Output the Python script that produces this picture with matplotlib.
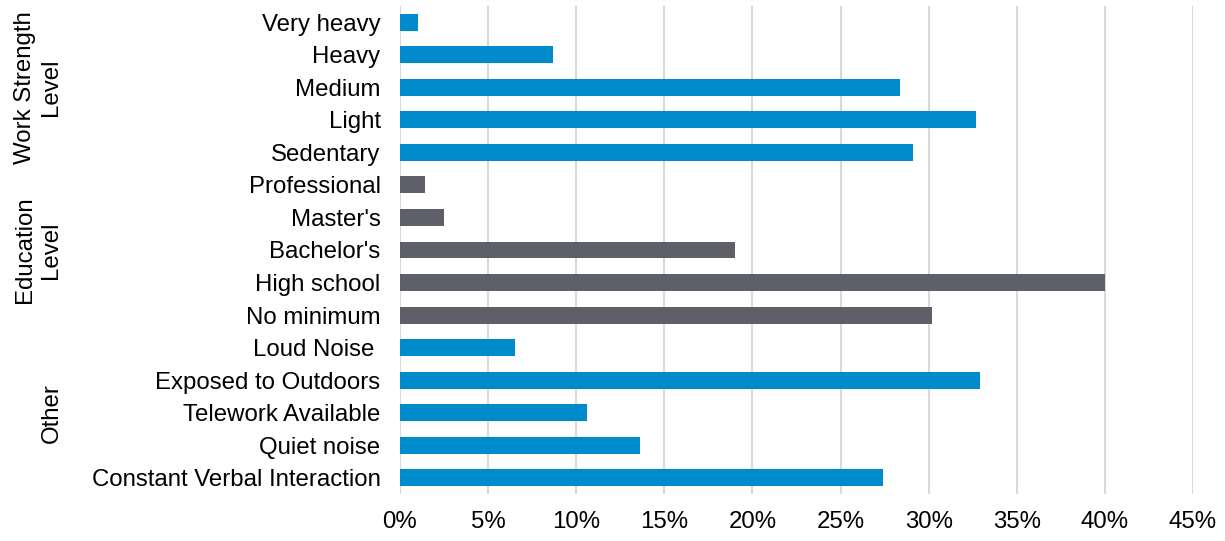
import matplotlib.pyplot as plt
import matplotlib.transforms as mtransforms
import numpy as np

plt.rcParams["font.family"] = ["Liberation Sans", "DejaVu Sans"]

work_labels = ["Very heavy", "Heavy", "Medium", "Light", "Sedentary"]
work_values = [1.0, 8.7, 28.4, 32.7, 29.1]

edu_labels = ["Professional", "Master's", "Bachelor's", "High school", "No minimum"]
edu_values = [1.4, 2.5, 19.0, 40.0, 30.2]

other_labels = ["Loud Noise ", "Exposed to Outdoors", "Telework Available",
                "Quiet noise", "Constant Verbal Interaction"]
other_values = [6.5, 32.9, 10.6, 13.6, 27.4]

groups = [("Work Strength\nLevel", work_labels, work_values, "#008BCC"),
          ("Education\nLevel", edu_labels, edu_values, "#5F5F69"),
          ("Other", other_labels, other_values, "#008BCC")]

x_ticks = [0, 5, 10, 15, 20, 25, 30, 35, 40, 45]


def main() -> None:
    fig = plt.figure(figsize=(12.25, 5.41), dpi=100)
    ax = fig.add_axes([400 / 1225, 47 / 541, 793 / 1225, 488 / 541])

    labels = []
    pos = 0
    group_centers = []
    for name, cats, vals, color in groups:
        y = np.arange(pos, pos + len(cats))
        ax.barh(y, vals, height=0.52, color=color, zorder=3)
        labels.extend(cats)
        group_centers.append((name, y.mean()))
        pos += len(cats)

    ax.set_yticks(np.arange(pos))
    ax.set_yticklabels(labels, fontsize=17.3)
    ax.set_ylim(pos - 0.5, -0.5)

    ax.set_xlim(0, 45)
    ax.set_xticks(x_ticks)
    ax.set_xticklabels([f"{t}%" for t in x_ticks], fontsize=17.3)
    ax.tick_params(axis="both", length=0)
    ax.tick_params(axis="y", pad=14)
    ax.tick_params(axis="x", pad=12)

    ax.grid(axis="x", color="#D9D9D9", linewidth=1.5, zorder=0)
    for s in ax.spines.values():
        s.set_visible(False)

    # Group labels on the far left.
    trans = mtransforms.blended_transform_factory(fig.transFigure, ax.transData)
    for name, yc in group_centers:
        xc = 38 / 1225 if "\n" in name else 52 / 1225
        ax.text(xc, yc, name, transform=trans, rotation=90, fontsize=17.3,
                ha="center", va="center", multialignment="center",
                linespacing=1.2)

    fig.savefig("out.png", dpi=100)


if __name__ == "__main__":
    main()
